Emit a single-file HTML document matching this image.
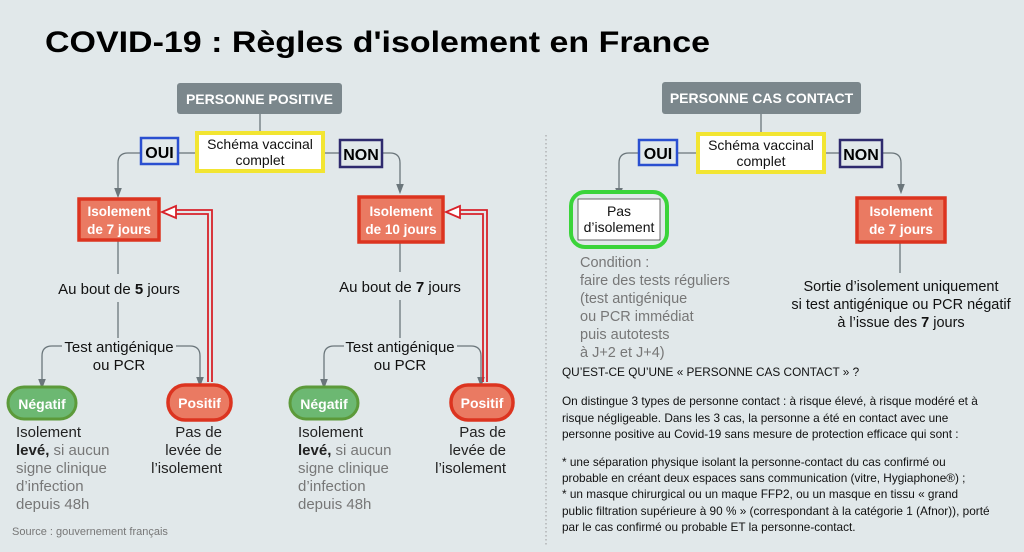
<!DOCTYPE html>
<html><head><meta charset="utf-8">
<style>
html,body{margin:0;padding:0;background:#e1e8ea;}
svg{display:block;}
text{font-family:"Liberation Sans",sans-serif;}
</style></head>
<body>
<svg width="1024" height="552" viewBox="0 0 1024 552" xmlns="http://www.w3.org/2000/svg">
<defs>
<marker id="ar" markerWidth="8" markerHeight="8" refX="4" refY="4" orient="auto"><path d="M0,1 L8,4 L0,7z" fill="#6b767b"/></marker>
</defs>
<rect width="1024" height="552" fill="#e1e8ea"/>
<text x="45" y="52" font-size="30" font-weight="bold" fill="#000" textLength="665" lengthAdjust="spacingAndGlyphs">COVID-19 : Règles d'isolement en France</text>

<!-- ===== LEFT PANEL ===== -->
<g stroke="#6b767b" stroke-width="1.3" fill="none">
<line x1="260" y1="114" x2="260" y2="131"/>
<line x1="179" y1="153" x2="195" y2="153"/>
<path d="M140,153 H128 Q118,153 118,163 V193" marker-end="url(#ar)"/>
<line x1="325" y1="153" x2="339" y2="153"/>
<path d="M382,153 H390 Q400,153 400,163 V189" marker-end="url(#ar)"/>
<line x1="118" y1="241" x2="118" y2="274"/>
<line x1="118" y1="302" x2="118" y2="338"/>
<path d="M62,346 H52 Q42,346 42,356 V384" marker-end="url(#ar)"/>
<path d="M176,346 H190 Q200,346 200,356 V382" marker-end="url(#ar)"/>
<line x1="400" y1="243" x2="400" y2="272"/>
<line x1="400" y1="300" x2="400" y2="338"/>
<path d="M344,346 H334 Q324,346 324,356 V384" marker-end="url(#ar)"/>
<path d="M457,346 H471 Q481,346 481,356 V382" marker-end="url(#ar)"/>
</g>

<rect x="177" y="83" width="165" height="31" rx="3" fill="#7b878c"/>
<text x="259.5" y="104" font-size="14" font-weight="bold" fill="#fff" text-anchor="middle">PERSONNE POSITIVE</text>
<rect x="197" y="133" width="126" height="38" fill="#fff" stroke="#f2e532" stroke-width="4"/>
<text x="260" y="149" font-size="14" fill="#111" text-anchor="middle">Schéma vaccinal</text>
<text x="260" y="165" font-size="14" fill="#111" text-anchor="middle">complet</text>
<rect x="141" y="138" width="37" height="26" fill="#e1e8ea" stroke="#2a4fd0" stroke-width="2.5"/>
<text x="159.5" y="158" font-size="16" font-weight="bold" fill="#000" text-anchor="middle">OUI</text>
<rect x="340" y="140" width="42" height="27" fill="#e1e8ea" stroke="#2e2a6e" stroke-width="2.5"/>
<text x="361" y="160" font-size="16" font-weight="bold" fill="#000" text-anchor="middle">NON</text>

<rect x="79" y="199" width="80" height="41" fill="#ea7a62" stroke="#dc3420" stroke-width="3.5"/>
<text x="119" y="216" font-size="13.5" font-weight="bold" fill="#fff" text-anchor="middle">Isolement</text>
<text x="119" y="234" font-size="13.5" font-weight="bold" fill="#fff" text-anchor="middle">de 7 jours</text>
<rect x="359" y="197" width="84" height="45" fill="#ea7a62" stroke="#dc3420" stroke-width="3.5"/>
<text x="401" y="216" font-size="13.5" font-weight="bold" fill="#fff" text-anchor="middle">Isolement</text>
<text x="401" y="234" font-size="13.5" font-weight="bold" fill="#fff" text-anchor="middle">de 10 jours</text>

<!-- red return arrows -->
<g fill="none" stroke="#d8222a" stroke-width="1.8">
<path d="M208,382 V214 H176 M212,382 V210 H176"/>
<path d="M176,206 L162,212 L176,218 Z" fill="#fff"/>
<path d="M483,382 V214 H460 M487,382 V210 H460"/>
<path d="M460,206 L446,212 L460,218 Z" fill="#fff"/>
</g>

<text x="119" y="294" font-size="15" fill="#111" text-anchor="middle">Au bout de <tspan font-weight="bold">5</tspan> jours</text>
<text x="400" y="292" font-size="15" fill="#111" text-anchor="middle">Au bout de <tspan font-weight="bold">7</tspan> jours</text>
<text x="119" y="352" font-size="15" fill="#111" text-anchor="middle">Test antigénique</text>
<text x="119" y="370" font-size="15" fill="#111" text-anchor="middle">ou PCR</text>
<text x="400" y="352" font-size="15" fill="#111" text-anchor="middle">Test antigénique</text>
<text x="400" y="370" font-size="15" fill="#111" text-anchor="middle">ou PCR</text>

<g>
<rect x="8" y="387" width="68" height="32" rx="16" fill="#6cb872" stroke="#5c9a3a" stroke-width="3"/>
<text x="42" y="409" font-size="14" font-weight="bold" fill="#fff" text-anchor="middle">Négatif</text>
<rect x="168" y="385" width="63" height="35" rx="17" fill="#ea7a62" stroke="#dc3420" stroke-width="3.5"/>
<text x="199.5" y="408" font-size="14" font-weight="bold" fill="#fff" text-anchor="middle">Positif</text>
<rect x="290" y="387" width="68" height="32" rx="16" fill="#6cb872" stroke="#5c9a3a" stroke-width="3"/>
<text x="324" y="409" font-size="14" font-weight="bold" fill="#fff" text-anchor="middle">Négatif</text>
<rect x="451" y="385" width="62" height="35" rx="17" fill="#ea7a62" stroke="#dc3420" stroke-width="3.5"/>
<text x="482" y="408" font-size="14" font-weight="bold" fill="#fff" text-anchor="middle">Positif</text>
</g>

<g font-size="15">
<text x="16" y="437" fill="#222">Isolement</text>
<text x="16" y="455" fill="#777"><tspan fill="#222" font-weight="bold">levé,</tspan> si aucun</text>
<text x="16" y="473" fill="#777">signe clinique</text>
<text x="16" y="491" fill="#777">d’infection</text>
<text x="16" y="509" fill="#777">depuis 48h</text>
<text x="222" y="437" fill="#222" text-anchor="end">Pas de</text>
<text x="222" y="455" fill="#222" text-anchor="end">levée de</text>
<text x="222" y="473" fill="#222" text-anchor="end">l’isolement</text>
<text x="298" y="437" fill="#222">Isolement</text>
<text x="298" y="455" fill="#777"><tspan fill="#222" font-weight="bold">levé,</tspan> si aucun</text>
<text x="298" y="473" fill="#777">signe clinique</text>
<text x="298" y="491" fill="#777">d’infection</text>
<text x="298" y="509" fill="#777">depuis 48h</text>
<text x="506" y="437" fill="#222" text-anchor="end">Pas de</text>
<text x="506" y="455" fill="#222" text-anchor="end">levée de</text>
<text x="506" y="473" fill="#222" text-anchor="end">l’isolement</text>
</g>
<text x="12" y="535" font-size="11" fill="#777">Source : gouvernement français</text>

<!-- ===== RIGHT PANEL ===== -->
<line x1="546" y1="135" x2="546" y2="545" stroke="#999" stroke-width="1" stroke-dasharray="1.5,2.5"/>
<g stroke="#6b767b" stroke-width="1.3" fill="none">
<line x1="761" y1="114" x2="761" y2="132"/>
<line x1="678" y1="153" x2="696" y2="153"/>
<path d="M638,153 H629 Q619,153 619,163 V193" marker-end="url(#ar)"/>
<line x1="826" y1="153" x2="839" y2="153"/>
<path d="M883,153 H891 Q901,153 901,163 V189" marker-end="url(#ar)"/>
<line x1="900" y1="243" x2="900" y2="273"/>
</g>
<rect x="662" y="82" width="199" height="32" rx="3" fill="#7b878c"/>
<text x="761.5" y="103" font-size="14" font-weight="bold" fill="#fff" text-anchor="middle">PERSONNE CAS CONTACT</text>
<rect x="698" y="134" width="126" height="38" fill="#fff" stroke="#f2e532" stroke-width="4"/>
<text x="761" y="150" font-size="14" fill="#111" text-anchor="middle">Schéma vaccinal</text>
<text x="761" y="166" font-size="14" fill="#111" text-anchor="middle">complet</text>
<rect x="639" y="140" width="38" height="25" fill="#e1e8ea" stroke="#2a4fd0" stroke-width="2.5"/>
<text x="658" y="159" font-size="16" font-weight="bold" fill="#000" text-anchor="middle">OUI</text>
<rect x="840" y="140" width="42" height="27" fill="#e1e8ea" stroke="#2e2a6e" stroke-width="2.5"/>
<text x="861" y="160" font-size="16" font-weight="bold" fill="#000" text-anchor="middle">NON</text>

<rect x="571" y="192" width="96" height="55" rx="14" fill="#e1e8ea" stroke="#3ad43a" stroke-width="4"/>
<rect x="578" y="199" width="82" height="41" fill="#fff" stroke="#444" stroke-width="0.8"/>
<text x="619" y="216" font-size="14" fill="#111" text-anchor="middle">Pas</text>
<text x="619" y="232" font-size="14" fill="#111" text-anchor="middle">d’isolement</text>

<rect x="857" y="198" width="88" height="44" fill="#ea7a62" stroke="#dc3420" stroke-width="3.5"/>
<text x="901" y="216" font-size="13.5" font-weight="bold" fill="#fff" text-anchor="middle">Isolement</text>
<text x="901" y="234" font-size="13.5" font-weight="bold" fill="#fff" text-anchor="middle">de 7 jours</text>

<g font-size="14.5" fill="#777">
<text x="580" y="267">Condition :</text>
<text x="580" y="285">faire des tests réguliers</text>
<text x="580" y="303">(test antigénique</text>
<text x="580" y="321">ou PCR immédiat</text>
<text x="580" y="339">puis autotests</text>
<text x="580" y="357">à J+2 et J+4)</text>
</g>
<g font-size="14.5" fill="#111" text-anchor="middle">
<text x="901" y="291">Sortie d’isolement uniquement</text>
<text x="901" y="309">si test antigénique ou PCR négatif</text>
<text x="901" y="327">à l’issue des <tspan font-weight="bold">7</tspan> jours</text>
</g>

<g font-size="11.8" fill="#111">
<text x="562" y="376">QU’EST-CE QU’UNE « PERSONNE CAS CONTACT » ?</text>
<text x="562" y="405">On distingue 3 types de personne contact : à risque élevé, à risque modéré et à</text>
<text x="562" y="422">risque négligeable. Dans les 3 cas, la personne a été en contact avec une</text>
<text x="562" y="438">personne positive au Covid-19 sans mesure de protection efficace qui sont :</text>
<text x="562" y="466">* une séparation physique isolant la personne-contact du cas confirmé ou</text>
<text x="562" y="482">probable en créant deux espaces sans communication (vitre, Hygiaphone®) ;</text>
<text x="562" y="498">* un masque chirurgical ou un maque FFP2, ou un masque en tissu « grand</text>
<text x="562" y="515">public filtration supérieure à 90 % » (correspondant à la catégorie 1 (Afnor)), porté</text>
<text x="562" y="531">par le cas confirmé ou probable ET la personne-contact.</text>
</g>
</svg>
</body></html>
